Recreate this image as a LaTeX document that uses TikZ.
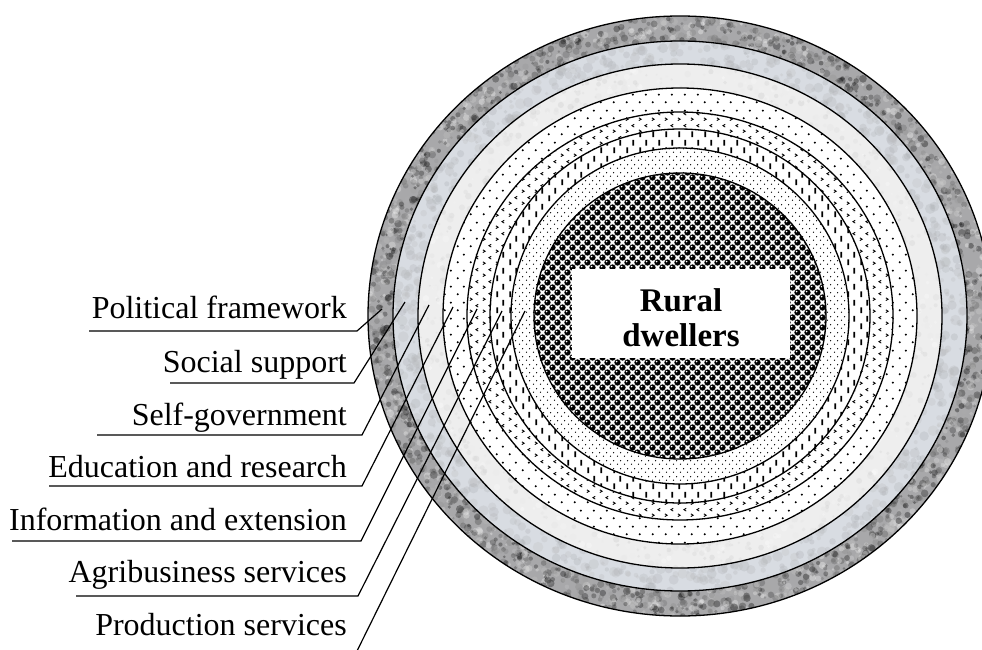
\documentclass[tikz,border=0pt]{standalone}
\usepackage{fontspec}
\setmainfont{Liberation Serif}
\usetikzlibrary{patterns}

% sparse dots (band 4)
\pgfdeclarepatternformonly{ringdotsA}{\pgfpointorigin}{\pgfqpoint{13pt}{16pt}}{\pgfqpoint{13pt}{16pt}}{%
  \pgfpathcircle{\pgfqpoint{3pt}{4pt}}{1.2pt}%
  \pgfpathcircle{\pgfqpoint{9.5pt}{12pt}}{1.2pt}%
  \pgfusepath{fill}}
% chevrons (band 5)
\pgfdeclarepatternformonly{ringchev}{\pgfpointorigin}{\pgfqpoint{13pt}{12pt}}{\pgfqpoint{13pt}{12pt}}{%
  \pgfsetlinewidth{0.9pt}%
  \pgfpathmoveto{\pgfqpoint{2pt}{1.5pt}}\pgfpathlineto{\pgfqpoint{4.5pt}{3pt}}\pgfpathlineto{\pgfqpoint{2pt}{4.5pt}}%
  \pgfpathmoveto{\pgfqpoint{11pt}{7.5pt}}\pgfpathlineto{\pgfqpoint{8.5pt}{9pt}}\pgfpathlineto{\pgfqpoint{11pt}{10.5pt}}%
  \pgfusepath{stroke}}
% vertical dashes (band 6)
\pgfdeclarepatternformonly{ringdash}{\pgfpointorigin}{\pgfqpoint{13pt}{16pt}}{\pgfqpoint{13pt}{16pt}}{%
  \pgfpathrectangle{\pgfqpoint{2.5pt}{1pt}}{\pgfqpoint{1.8pt}{6pt}}%
  \pgfpathrectangle{\pgfqpoint{9pt}{9pt}}{\pgfqpoint{1.8pt}{6pt}}%
  \pgfusepath{fill}}
% fine dots (band 7)
\pgfdeclarepatternformonly{ringdotsB}{\pgfpointorigin}{\pgfqpoint{7pt}{8pt}}{\pgfqpoint{7pt}{8pt}}{%
  \pgfpathcircle{\pgfqpoint{1.75pt}{2pt}}{0.8pt}%
  \pgfpathcircle{\pgfqpoint{5.25pt}{6pt}}{0.8pt}%
  \pgfusepath{fill}}
% shiny balls (core)
\pgfdeclarepatterninherentlycolored{ringballs}{\pgfqpoint{-2pt}{-2pt}}{\pgfqpoint{12pt}{12pt}}{\pgfqpoint{10pt}{10pt}}{%
  \pgfsetfillcolor{black!50}%
  \pgfpathcircle{\pgfqpoint{2.5pt}{2.5pt}}{3.4pt}%
  \pgfpathcircle{\pgfqpoint{7.5pt}{7.5pt}}{3.4pt}%
  \pgfusepath{fill}%
  \pgfsetfillcolor{black}%
  \pgfpathcircle{\pgfqpoint{2.5pt}{2.5pt}}{2.9pt}%
  \pgfpathcircle{\pgfqpoint{7.5pt}{7.5pt}}{2.9pt}%
  \pgfusepath{fill}%
  \pgfsetfillcolor{white}%
  \pgfpathcircle{\pgfqpoint{1.6pt}{3.4pt}}{0.9pt}%
  \pgfpathcircle{\pgfqpoint{6.6pt}{8.4pt}}{0.9pt}%
  \pgfusepath{fill}}

\definecolor{ringA}{RGB}{168,168,170}
\definecolor{ringB}{RGB}{216,220,226}
\definecolor{ringC}{RGB}{238,238,238}

\begin{document}
\begin{tikzpicture}[x=1pt,y=-1pt,
  ringline/.style={draw=black,line width=1.3pt},
  leader/.style={draw=black,line width=1.2pt},
  lbl/.style={anchor=base east,inner sep=0pt,font=\fontsize{32}{36}\selectfont},
  corebox/.style={fill=white,inner sep=0pt,minimum width=218pt,minimum height=89pt},
  coretext/.style={align=center,inner sep=0pt,font=\fontsize{33}{35}\selectfont\bfseries}]
\useasboundingbox (0,0) rectangle (982,650);
\def\cx{680}\def\cy{316}
\pgfmathsetseed{7}

% band 1: dark granite
\begin{scope}
\clip (\cx,\cy) ellipse [x radius=312, y radius=300];
\fill[ringA] (\cx,\cy) ellipse [x radius=312, y radius=300];
\foreach \i in {1,...,2200}{
  \pgfmathsetmacro\ang{rnd*360}
  \pgfmathsetmacro\rr{0.915+rnd*0.085}
  \pgfmathsetmacro\sz{1.2+rnd*2.8}
  \pgfmathtruncatemacro\sh{rnd*100}
  \fill[white!\sh!black,fill opacity=0.35] ({\cx+312*\rr*cos(\ang)},{\cy+300*\rr*sin(\ang)}) circle [radius=\sz];
}
\end{scope}
% band 2: light marble
\begin{scope}
\clip (\cx,\cy) ellipse [x radius=287, y radius=275];
\fill[ringB] (\cx,\cy) ellipse [x radius=287, y radius=275];
\foreach \i in {1,...,800}{
  \pgfmathsetmacro\ang{rnd*360}
  \pgfmathsetmacro\rr{0.90+rnd*0.10}
  \pgfmathsetmacro\sz{1.5+rnd*4}
  \pgfmathtruncatemacro\sh{rnd*100}
  \fill[white!\sh!ringB!75!black,fill opacity=0.25] ({\cx+287*\rr*cos(\ang)},{\cy+275*\rr*sin(\ang)}) circle [radius=\sz];
}
\end{scope}
% band 3: pale speckle
\begin{scope}
\clip (\cx,\cy) ellipse [x radius=262, y radius=252];
\fill[ringC] (\cx,\cy) ellipse [x radius=262, y radius=252];
\foreach \i in {1,...,800}{
  \pgfmathsetmacro\ang{rnd*360}
  \pgfmathsetmacro\rr{0.89+rnd*0.11}
  \pgfmathsetmacro\sz{1+rnd*2.5}
  \pgfmathtruncatemacro\sh{rnd*100}
  \fill[white!\sh!black!20,fill opacity=0.35] ({\cx+262*\rr*cos(\ang)},{\cy+252*\rr*sin(\ang)}) circle [radius=\sz];
}
\end{scope}
% band 4 .. core
\fill[white] (\cx,\cy) ellipse [x radius=237, y radius=228];
\fill[pattern=ringdotsA] (\cx,\cy) ellipse [x radius=237, y radius=228];
\fill[white] (\cx,\cy) ellipse [x radius=213, y radius=204];
\fill[pattern=ringchev] (\cx,\cy) ellipse [x radius=213, y radius=204];
\fill[white] (\cx,\cy) ellipse [x radius=190, y radius=187];
\fill[pattern=ringdash] (\cx,\cy) ellipse [x radius=190, y radius=187];
\fill[white] (\cx,\cy) ellipse [x radius=169, y radius=168];
\fill[pattern=ringdotsB] (\cx,\cy) ellipse [x radius=169, y radius=168];
\fill[white] (\cx,\cy) ellipse [x radius=146, y radius=143];
\fill[pattern=ringballs] (\cx,\cy) ellipse [x radius=146, y radius=143];

% ring outlines
\foreach \ringx/\ringy in {312/300,287/275,262/252,237/228,213/204,190/187,169/168,146/143}
  \draw[ringline] (\cx,\cy) ellipse [x radius=\ringx, y radius=\ringy];

% core label
\node[corebox] (core) at (681,313.5) {};
\node[coretext] (coretxt) at (681,318) {Rural\\dwellers};

% labels
\node[lbl] (pf) at (347,318) {Political framework};
\node[lbl] (ss) at (347,372) {Social support};
\node[lbl] (sg) at (347,425) {Self-government};
\node[lbl] (er) at (347,477) {Education and research};
\node[lbl] (ie) at (347,530) {Information and extension};
\node[lbl] (ab) at (347,582) {Agribusiness services};
\node[lbl] (ps) at (347,635) {Production services};

% leader coordinates
\coordinate (pfS) at (89,331);  \coordinate (pfK) at (357,331); \coordinate (pfE) at (382,309);
\coordinate (ssS) at (170,383); \coordinate (ssK) at (354,383); \coordinate (ssE) at (405,302);
\coordinate (sgS) at (97,435);  \coordinate (sgK) at (362,435); \coordinate (sgE) at (429,305);
\coordinate (erS) at (49,486);  \coordinate (erK) at (362,486); \coordinate (erE) at (453,307);
\coordinate (ieS) at (12,541);  \coordinate (ieK) at (361,541); \coordinate (ieE) at (477,309);
\coordinate (abS) at (76,596);  \coordinate (abK) at (358,596); \coordinate (abE) at (502,311);
\coordinate (psK) at (357,651); \coordinate (psE) at (525,311);

\draw[leader] (pfS) -- (pfK) -- (pfE);
\draw[leader] (ssS) -- (ssK) -- (ssE);
\draw[leader] (sgS) -- (sgK) -- (sgE);
\draw[leader] (erS) -- (erK) -- (erE);
\draw[leader] (ieS) -- (ieK) -- (ieE);
\draw[leader] (abS) -- (abK) -- (abE);
\draw[leader] (psK) -- (psE);
\end{tikzpicture}
\end{document}
